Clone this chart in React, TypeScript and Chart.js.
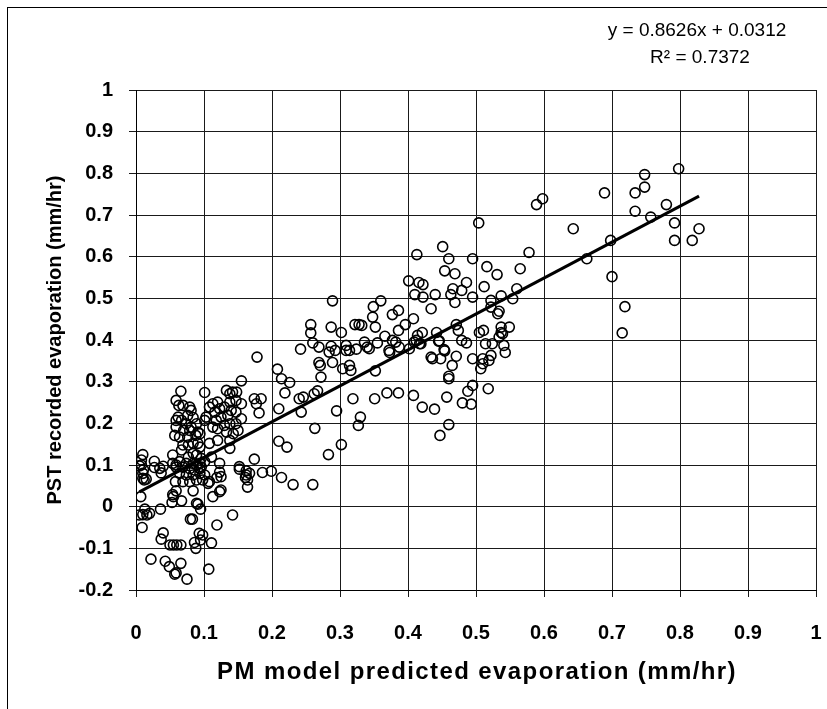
import React, { useEffect, useRef } from 'react';
import { Chart, registerables } from 'chart.js';

Chart.register(...registerables);

// PM model predicted evaporation (mm/hr)
const pmPredicted: number[] = [
  0.798, 0.748, 0.748, 0.734, 0.689, 0.734, 0.780, 0.757, 0.792, 0.828, 0.792, 0.818, 0.643, 0.698, 0.663, 0.700, 0.719, 0.715,
  0.589, 0.598, 0.504, 0.578, 0.565, 0.560, 0.554, 0.537, 0.531, 0.516, 0.512, 0.495, 0.495, 0.486, 0.479, 0.466, 0.463, 0.469,
  0.469, 0.454, 0.460, 0.451, 0.413, 0.401, 0.416, 0.422, 0.410, 0.422, 0.440, 0.434, 0.408, 0.396, 0.386, 0.377, 0.386, 0.349,
  0.360, 0.348, 0.352, 0.328, 0.332, 0.421, 0.442, 0.471, 0.474, 0.522, 0.522, 0.532, 0.534, 0.537, 0.549, 0.505, 0.511, 0.537,
  0.322, 0.409, 0.417, 0.445, 0.479, 0.486, 0.539, 0.534, 0.514, 0.524, 0.541, 0.543, 0.453, 0.434, 0.436, 0.448, 0.471, 0.495,
  0.510, 0.510, 0.519, 0.522, 0.465, 0.507, 0.460, 0.460, 0.495, 0.488, 0.518, 0.457, 0.480, 0.493, 0.408, 0.421, 0.439, 0.460,
  0.447, 0.386, 0.369, 0.351, 0.319, 0.330, 0.327, 0.454, 0.446, 0.412, 0.402, 0.419, 0.366, 0.377, 0.355, 0.372, 0.373, 0.387,
  0.343, 0.340, 0.324, 0.314, 0.336, 0.314, 0.316, 0.352, 0.289, 0.257, 0.257, 0.260, 0.287, 0.302, 0.269, 0.284, 0.287, 0.293,
  0.309, 0.309, 0.382, 0.414, 0.242, 0.178, 0.269, 0.271, 0.272, 0.289, 0.304, 0.208, 0.214, 0.226, 0.219, 0.240, 0.246, 0.262,
  0.267, 0.174, 0.184, 0.177, 0.181, 0.210, 0.243, 0.295, 0.263, 0.210, 0.222, 0.302, 0.283, 0.174, 0.186, 0.199, 0.214, 0.167,
  0.231, 0.260, 0.162, 0.164, 0.161, 0.152, 0.142, 0.119, 0.107, 0.111, 0.093, 0.098, 0.095, 0.086, 0.088, 0.091, 0.095, 0.080,
  0.083, 0.067, 0.053, 0.054, 0.059, 0.055, 0.084, 0.113, 0.125, 0.123, 0.119, 0.108, 0.050, 0.055, 0.060, 0.066, 0.040, 0.037,
  0.036, 0.022, 0.043, 0.049, 0.066, 0.057, 0.059, 0.075, 0.009, 0.013, 0.010, 0.016, 0.020, 0.005, 0.007, 0.010, 0.008, 0.005,
  0.010, 0.015, 0.012, 0.027, 0.037, 0.040, 0.035, 0.155, 0.066, 0.101, 0.133, 0.142, 0.148, 0.138,
  0.059, 0.063, 0.079, 0.069, 0.081, 0.076, 0.084, 0.062, 0.059, 0.067, 0.074, 0.081, 0.089, 0.059, 0.070, 0.079, 0.091, 0.057,
  0.064, 0.076, 0.088, 0.094,
  0.113, 0.108, 0.120, 0.123, 0.116, 0.130, 0.138, 0.147, 0.155, 0.140, 0.135, 0.147, 0.155, 0.125, 0.118, 0.113, 0.120, 0.130,
  0.138, 0.147, 0.133, 0.143, 0.150, 0.138, 0.103, 0.101,
  0.054, 0.067, 0.069, 0.077, 0.084, 0.091, 0.094, 0.084, 0.077, 0.089, 0.096, 0.064, 0.074, 0.084, 0.094, 0.101, 0.054, 0.059,
  0.108, 0.120, 0.138, 0.152, 0.123, 0.111,
  0.059, 0.069, 0.079, 0.089, 0.096, 0.064, 0.074, 0.084, 0.094, 0.101, 0.069, 0.079, 0.089, 0.098, 0.106, 0.086, 0.094,
  0.008, 0.011, 0.010, 0.027, 0.058, 0.089, 0.125, 0.162, 0.164, 0.123,
];

// PST recorded evaporation (mm/hr)
const pstRecorded: number[] = [
  0.811, 0.797, 0.767, 0.753, 0.753, 0.709, 0.725, 0.695, 0.681, 0.667, 0.639, 0.639, 0.667, 0.639, 0.595, 0.552, 0.480, 0.417,
  0.725, 0.739, 0.681, 0.610, 0.571, 0.523, 0.499, 0.506, 0.557, 0.576, 0.528, 0.595, 0.503, 0.538, 0.519, 0.523, 0.509, 0.490,
  0.559, 0.566, 0.595, 0.624, 0.605, 0.542, 0.538, 0.533, 0.509, 0.503, 0.509, 0.475, 0.451, 0.437, 0.423, 0.461, 0.471, 0.480,
  0.494, 0.455, 0.431, 0.437, 0.435, 0.418, 0.418, 0.437, 0.423, 0.495, 0.479, 0.463, 0.469, 0.431, 0.431, 0.418, 0.423, 0.418,
  0.437, 0.395, 0.391, 0.397, 0.399, 0.393, 0.415, 0.407, 0.391, 0.391, 0.387, 0.370, 0.377, 0.359, 0.355, 0.355, 0.361, 0.355,
  0.355, 0.343, 0.351, 0.363, 0.339, 0.331, 0.313, 0.307, 0.291, 0.277, 0.283, 0.263, 0.249, 0.246, 0.267, 0.239, 0.234, 0.197,
  0.171, 0.273, 0.273, 0.259, 0.259, 0.215, 0.195, 0.374, 0.398, 0.399, 0.379, 0.391, 0.409, 0.399, 0.393, 0.375, 0.370, 0.383,
  0.379, 0.383, 0.378, 0.375, 0.395, 0.339, 0.327, 0.326, 0.494, 0.437, 0.417, 0.393, 0.431, 0.418, 0.383, 0.371, 0.385, 0.375,
  0.375, 0.387, 0.395, 0.411, 0.378, 0.359, 0.346, 0.339, 0.311, 0.346, 0.331, 0.330, 0.307, 0.298, 0.273, 0.259, 0.263, 0.271,
  0.278, 0.259, 0.259, 0.247, 0.225, 0.235, 0.227, 0.230, 0.188, 0.157, 0.143, 0.149, 0.125, 0.114, 0.082, 0.085, 0.070, 0.080,
  0.053, 0.053, 0.086, 0.047, 0.070, 0.090, -0.020, -0.044, -0.150, -0.087, -0.064, -0.068, -0.080, -0.086, -0.100, 0.006, -0.006, -0.030,
  -0.030, 0.014, 0.010, 0.029, 0.038, 0.024, 0.038, 0.024, 0.040, 0.036, 0.070, 0.060, -0.092, -0.092, -0.092, -0.092, -0.063, -0.078,
  -0.006, -0.126, -0.131, -0.144, -0.136, -0.162, -0.159, -0.174, -0.050, -0.006, -0.019, -0.020, -0.016, -0.020, 0.024, 0.125, 0.112, 0.098,
  0.080, 0.066, 0.064, 0.109, 0.081, 0.097, 0.092, 0.302, 0.277, 0.274, 0.279, 0.275, 0.275, 0.271,
  0.255, 0.243, 0.239, 0.243, 0.231, 0.219, 0.214, 0.215, 0.207, 0.207, 0.199, 0.191, 0.199, 0.191, 0.183, 0.183, 0.179, 0.171,
  0.167, 0.167, 0.171, 0.175,
  0.247, 0.239, 0.251, 0.235, 0.227, 0.239, 0.251, 0.255, 0.247, 0.231, 0.219, 0.227, 0.211, 0.215, 0.207, 0.191, 0.187, 0.195,
  0.199, 0.199, 0.179, 0.175, 0.183, 0.159, 0.215, 0.207,
  0.124, 0.136, 0.148, 0.148, 0.152, 0.152, 0.143, 0.128, 0.119, 0.124, 0.116, 0.108, 0.104, 0.104, 0.104, 0.108, 0.104, 0.095,
  0.152, 0.159, 0.140, 0.096, 0.104, 0.119,
  0.100, 0.095, 0.091, 0.100, 0.095, 0.080, 0.076, 0.076, 0.080, 0.076, 0.060, 0.060, 0.064, 0.064, 0.056, 0.088, 0.091,
  0.100, 0.089, 0.068, 0.094, 0.060, 0.008, 0.072, 0.076, 0.064, 0.083,
];

const xTickLabels = ['0', '0.1', '0.2', '0.3', '0.4', '0.5', '0.6', '0.7', '0.8', '0.9', '1'];
const yTickLabels = ['-0.2', '-0.1', '0', '0.1', '0.2', '0.3', '0.4', '0.5', '0.6', '0.7', '0.8', '0.9', '1'];

const trendSlope = 0.8626;
const trendIntercept = 0.0312;
const equationLines = ['y = 0.8626x + 0.0312', 'R² = 0.7372'];

const xTitle = 'PM model predicted evaporation (mm/hr)';
const yTitle = 'PST recorded evaporation (mm/hr)';

const FONT = "'Liberation Sans', Arial, sans-serif";

export default function App() {
  const ref = useRef<HTMLCanvasElement | null>(null);

  useEffect(() => {
    const canvas = ref.current;
    if (!canvas) return;
    const points = pmPredicted.map((x, i) => ({ x, y: pstRecorded[i] }));
    const xMin = Math.min(...pmPredicted);
    const xMax = Math.max(...pmPredicted);
    const trend = [
      { x: xMin, y: trendSlope * xMin + trendIntercept },
      { x: xMax, y: trendSlope * xMax + trendIntercept },
    ];

    const textPlugin = {
      id: 'texts',
      afterDraw(chart: any) {
        const ctx = chart.ctx;
        const area = chart.chartArea;
        ctx.save();
        ctx.fillStyle = '#000';
        ctx.textAlign = 'center';
        ctx.textBaseline = 'middle';
        // trendline equation
        ctx.font = `19px ${FONT}`;
        ctx.fillText(equationLines[0], 697, 31);
        ctx.fillText(equationLines[1], 700, 58);
        // x axis title
        ctx.font = `bold 24px ${FONT}`;
        try { (ctx as any).letterSpacing = '1.4px'; } catch (e) { /* ignore */ }
        ctx.fillText(xTitle, (area.left + area.right) / 2 + 1, 672);
        try { (ctx as any).letterSpacing = '0px'; } catch (e) { /* ignore */ }
        ctx.restore();
      },
    };

    const chart = new Chart(canvas, {
      type: 'scatter',
      data: {
        datasets: [
          {
            type: 'line',
            data: trend,
            borderColor: '#000',
            borderWidth: 3,
            pointRadius: 0,
            showLine: true,
            fill: false,
          } as any,
          {
            data: points,
            pointStyle: 'circle',
            pointRadius: 5,
            pointBorderWidth: 1.6,
            borderColor: '#000',
            backgroundColor: 'rgba(0,0,0,0)',
          } as any,
        ],
      },
      options: {
        responsive: false,
        animation: false,
        devicePixelRatio: 1,
        layout: { padding: { left: 0, right: 11, top: 90, bottom: 0 } },
        plugins: { legend: { display: false }, tooltip: { enabled: false } },
        scales: {
          x: {
            type: 'linear',
            min: 0,
            max: 1,
            afterFit: (s: any) => { s.height = 119; s.paddingRight = 0; s.paddingLeft = 0; },
            grid: { color: '#1a1a1a', lineWidth: 1, tickLength: 7 },
            border: { color: '#000', width: 1 },
            ticks: {
              stepSize: 0.1,
              padding: 24,
              color: '#000',
              font: { family: FONT, size: 20, weight: 'bold' },
              maxRotation: 0,
              autoSkip: false,
              callback: (_v: any, i: number) => xTickLabels[i],
            },
            title: { display: false, text: xTitle },
          },
          y: {
            type: 'linear',
            min: -0.2,
            max: 1,
            afterFit: (s: any) => { s.width = 136; s.paddingTop = 0; s.paddingBottom = 0; },
            grid: { color: '#1a1a1a', lineWidth: 1, tickLength: 7 },
            border: { color: '#000', width: 1 },
            ticks: {
              stepSize: 0.1,
              padding: 16,
              color: '#000',
              font: { family: FONT, size: 20, weight: 'bold' },
              autoSkip: false,
              callback: (_v: any, i: number) => yTickLabels[i],
            },
            title: {
              display: true,
              text: yTitle,
              color: '#000',
              font: { family: FONT, size: 20, weight: 'bold' },
              padding: { top: 43, bottom: 0 },
            },
          },
        },
      },
      plugins: [textPlugin],
    } as any);

    return () => chart.destroy();
  }, []);

  return (
    <div style={{ position: 'fixed', left: 0, top: 0, width: 827, height: 709, background: '#fff', overflow: 'hidden' }}>
      <div style={{ position: 'absolute', left: 7, top: 7, width: 900, height: 900, border: '1px solid #000', boxSizing: 'border-box' }} />
      <canvas ref={ref} width={827} height={709} style={{ position: 'absolute', left: 0, top: 0, width: 827, height: 709 }} />
    </div>
  );
}
